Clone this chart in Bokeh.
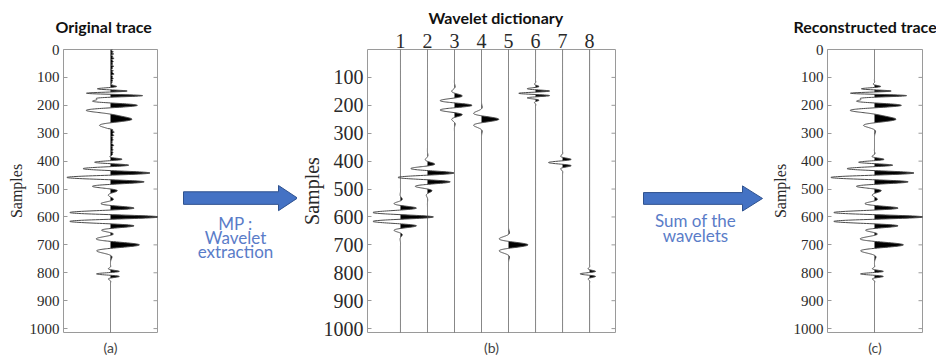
import numpy as np
from bokeh.plotting import figure
from bokeh.models import Range1d, LinearAxis, FixedTicker
from bokeh.layouts import row
from bokeh.embed import file_html
from bokeh.resources import INLINE
from bokeh.core.properties import value

# ---------------- data ----------------
# Wavelet dictionary: Gabor atoms (column, centre sample, amplitude, period, width, phase)
atom_ids    = [1, 2, 3, 4, 5, 6, 7, 8]
atom_center = [600, 455, 200, 250, 700, 157, 405, 804]
atom_amp    = [1.22, 1.10, 0.65, 0.64, 0.72, 0.62, 0.52, 0.35]
atom_period = [33, 33, 35, 50, 50, 17, 25, 20]
atom_width  = [38, 38, 38, 26, 27, 20, 17, 14]
atom_phase  = [0.0, 2.47, 0.0, 0.0, 0.0, 3.14, 3.14, 3.14]

# residual noise visible only in the original trace (a)
noise_top_samples = list(range(0, 132, 4))
noise_top_values = [0.05, 0.02, 0.07, 0.03, 0.08, 0.01, 0.06, 0.04, 0.09, 0.02, 0.05,
                    0.07, 0.03, 0.06, 0.02, 0.08, 0.04, 0.05, 0.01, 0.07, 0.03, 0.06,
                    0.09, 0.02, 0.05, 0.04, 0.07, 0.03, 0.06, 0.02, 0.05, 0.04, 0.03]
noise_mid_samples = list(range(284, 400, 4))
noise_mid_values = [0.04, 0.06, 0.02, 0.07, 0.03, 0.05, 0.08, 0.02, 0.06, 0.04, 0.07,
                    0.03, 0.05, 0.02, 0.06, 0.08, 0.03, 0.05, 0.04, 0.07, 0.02, 0.06,
                    0.03, 0.05, 0.07, 0.04, 0.02, 0.06, 0.03]

sample_ticks = [0, 100, 200, 300, 400, 500, 600, 700, 800, 900, 1000]
dict_ticks = [100, 200, 300, 400, 500, 600, 700, 800, 900, 1000]

titles = ["Original trace", "Wavelet dictionary", "Reconstructed trace"]
tags = ["(a)", "(b)", "(c)"]
arrow1_text = ["MP :", "Wavelet", "extraction"]
arrow2_text = ["Sum of the", "wavelets"]

# ---------------- build curves ----------------
t = np.arange(0, 1014.5, 0.5)


def atom(k):
    d = t - atom_center[k]
    return atom_amp[k] * np.exp(-(d / atom_width[k]) ** 2) * np.cos(
        2 * np.pi * d / atom_period[k] + atom_phase[k])


atoms = [atom(k) for k in range(len(atom_ids))]
recon = np.sum(atoms, axis=0)
noise = np.zeros_like(t)
for s, v in ((noise_top_samples, noise_top_values), (noise_mid_samples, noise_mid_values)):
    m = (t >= s[0]) & (t <= s[-1])
    noise[m] = np.interp(t[m], s, v)
orig = recon + noise

SERIF = "Liberation Serif"
SANS = "Lato"
LINE = "#4a4a4a"
FRAME = "#9a9a9a"


def base_fig(width, bl, br, xr, title, toff, tag, tick_size, lab_size, ticks, lab_standoff):
    p = figure(width=width, height=360, x_range=xr, y_range=Range1d(1014, 0),
               output_backend="svg", toolbar_location=None,
               x_axis_location=None, y_axis_location=None,
               min_border_left=bl, min_border_right=br,
               min_border_top=47, min_border_bottom=28,
               title=title)
    p.title.align = "left"
    p.title.offset = toff
    p.title.text_font = SANS
    p.title.text_font_size = "16px"
    p.title.text_font_style = "bold"
    p.title.text_color = "#111111"
    p.title.standoff = 28
    p.outline_line_color = FRAME
    p.outline_line_width = 1
    p.background_fill_color = "white"
    p.border_fill_color = "white"
    p.xgrid.visible = False
    p.ygrid.visible = False

    left = LinearAxis(ticker=FixedTicker(ticks=ticks), axis_label="Samples",
                      axis_line_color=None, major_tick_in=4, major_tick_out=0,
                      major_tick_line_color=FRAME, minor_tick_line_color=None,
                      major_label_text_font=SERIF, major_label_text_font_size=tick_size,
                      major_label_text_color="#2a2a2a", major_label_standoff=4,
                      axis_label_text_font=SERIF, axis_label_text_font_size=lab_size,
                      axis_label_text_font_style="normal", axis_label_text_color="#2a2a2a",
                      axis_label_standoff=lab_standoff)
    p.add_layout(left, "left")
    # inward tick marks on the right edge of the frame
    p.scatter(x=[xr.end] * len(ticks), y=ticks, marker="dash", size=8,
              line_color=FRAME, line_width=1)
    bottom = LinearAxis(ticker=FixedTicker(ticks=[]), axis_label=tag, axis_line_color=None,
                        major_tick_out=0, major_tick_in=0, major_label_standoff=0,
                        axis_label_text_font=SANS, axis_label_text_font_size="14px",
                        axis_label_text_font_style="normal", axis_label_text_color="#444444",
                        axis_label_standoff=6)
    p.add_layout(bottom, "below")
    return p


def wiggle(p, x0, w):
    p.harea(x1=np.full_like(t, x0), x2=x0 + np.maximum(w, 0), y=t,
            fill_color="black", fill_alpha=1.0)
    p.line(x=x0 + w, y=t, line_color=LINE, line_width=1)


# panel (a)
fa = base_fig(172, 63, 15, Range1d(-1.175, 1.175), titles[0], -8, tags[0],
              "15px", "16px", sample_ticks, 2)
wiggle(fa, 0.0, orig)

# panel (b)
fb = base_fig(333, 70, 15, Range1d(-0.22, 8.96), titles[1], 61, tags[1],
              "20px", "20px", dict_ticks, -2)
fb.title.standoff = 8
top = LinearAxis(ticker=FixedTicker(ticks=atom_ids), axis_line_color=None,
                 major_tick_in=0, major_tick_out=0, minor_tick_line_color=None,
                 major_label_text_font=SERIF, major_label_text_font_size="20px",
                 major_label_text_color="#2a2a2a", major_label_standoff=2)
fb.add_layout(top, "above")
for k, col in enumerate(atom_ids):
    wiggle(fb, float(col), atoms[k])

# panel (c)
fc = base_fig(170, 61, 14, Range1d(-1.175, 1.2), titles[2], -34, tags[2],
              "15px", "16px", sample_ticks, 2)
wiggle(fc, 0.0, recon)


def arrow_fig(width, x0, x1, tip, yc, sh, hh, lines, ys, tx):
    p = figure(width=width, height=360, x_range=Range1d(0, width), y_range=Range1d(360, 0),
               output_backend="svg", toolbar_location=None, min_border=0,
               x_axis_location=None, y_axis_location=None, outline_line_color=None)
    p.background_fill_color = "white"
    p.border_fill_color = "white"
    p.xgrid.visible = False
    p.ygrid.visible = False
    p.patch(x=[x0, x1, x1, tip, x1, x1, x0],
            y=[yc - sh, yc - sh, yc - hh, yc, yc + hh, yc + sh, yc + sh],
            fill_color="#4472C4", line_color="#2F528F", line_width=1)
    p.text(x=[tx] * len(lines), y=ys, text=lines, text_font=value(SANS),
           text_font_size="17px", text_color="#5A7CC8", text_align="center",
           text_baseline="middle")
    return p


a1 = arrow_fig(125, 11, 106, 125, 189, 8, 16, arrow1_text, [221, 239, 257], 63)
a2 = arrow_fig(136, 13, 112, 132, 189.5, 7.5, 16, arrow2_text, [218, 237], 65)

layout = row(fa, a1, fb, a2, fc)
open("out.html", "w").write(file_html(layout, INLINE))
